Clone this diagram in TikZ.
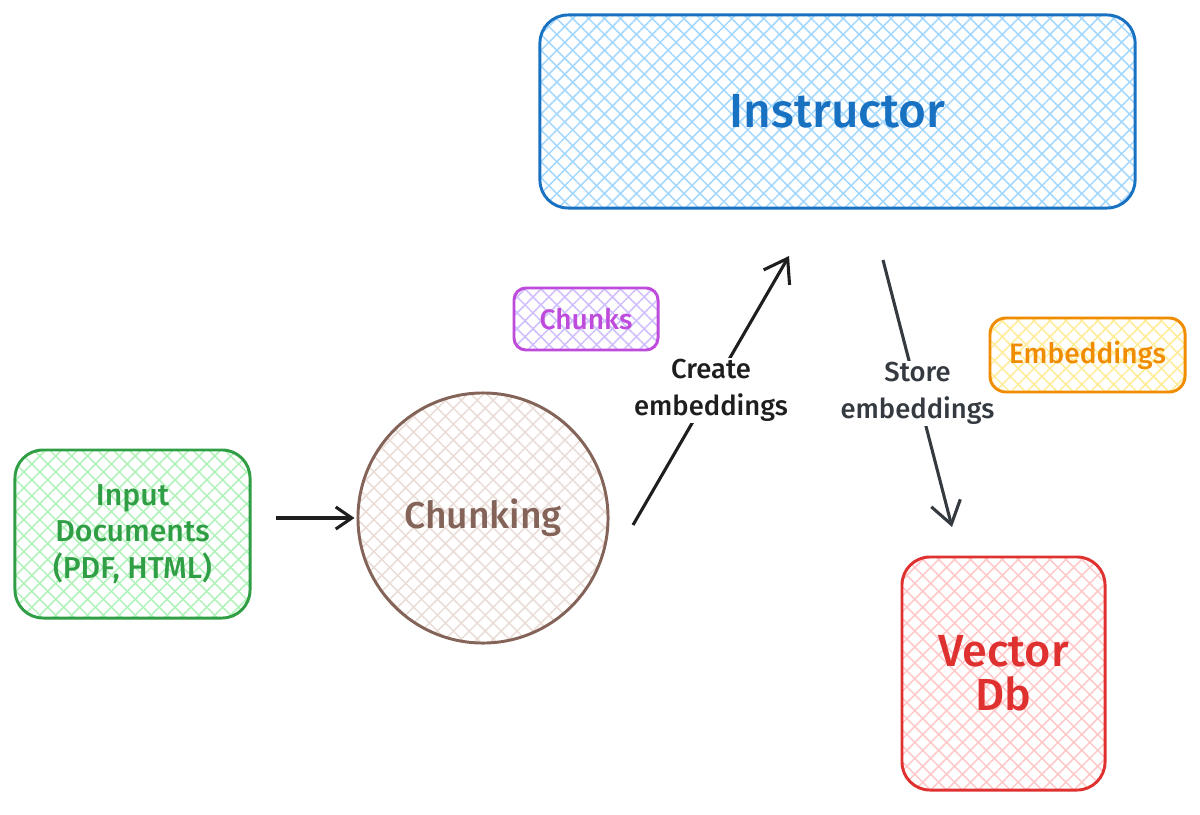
\documentclass[tikz,border=0pt]{standalone}
\usepackage{fontspec}
\setmainfont{Fira Sans Medium}
\usepackage{xcolor}
\usetikzlibrary{arrows.meta, patterns.meta}

\definecolor{grnline}{HTML}{2F9E44}
\definecolor{grnfill}{HTML}{B2F2BB}
\definecolor{brnline}{HTML}{846358}
\definecolor{brnfill}{HTML}{EADDD7}
\definecolor{purline}{HTML}{BE4BDB}
\definecolor{purfill}{HTML}{D0BFFF}
\definecolor{bluline}{HTML}{1971C2}
\definecolor{blufill}{HTML}{A5D8FF}
\definecolor{orgline}{HTML}{F08C00}
\definecolor{orgfill}{HTML}{FFEC99}
\definecolor{redline}{HTML}{E03131}
\definecolor{redfill}{HTML}{FFC9C9}
\definecolor{inkdark}{HTML}{1E1E1E}
\definecolor{inkgray}{HTML}{343A40}

\begin{document}
\begin{tikzpicture}[
  x=0.025cm, y=-0.025cm,
  sketch/.style={draw=#1line, line width=2.1pt, rounded corners=0.7cm, align=center, text=#1line,
    pattern={Hatch[angle=45, distance=8pt, line width=1.1pt]}, pattern color=#1fill},
  flow/.style={-{Straight Barb[length=5.5mm, width=7.5mm]}, line width=2.2pt, inkdark},
  tag/.style={fill=white, align=center, inner sep=1pt, font=\fontsize{19.5}{26}\selectfont},
]
  \useasboundingbox (0,0) rectangle (1200,814);

  % Ends of the arrows
  \coordinate (ceA) at (633,525);
  \coordinate (ceB) at (789,256);
  \coordinate (seA) at (883,260);
  \coordinate (seB) at (952,527);

  % Arrows
  \draw[flow] (ceA) -- node[tag] (celbl) {Create\\embeddings} (ceB);
  \draw[flow, inkgray] (seA) -- node[tag, text=inkgray] (selbl) {Store\\embeddings} (seB);

  % Boxes
  \node[sketch=grn, minimum width=5.875cm, minimum height=4.2cm, font=\fontsize{21.5}{26}\selectfont] (input) at (132.5,534) {Input\\Documents\\(PDF, HTML)};
  \node[sketch=brn, circle, minimum size=6.25cm, font=\fontsize{26.5}{30}\selectfont] (chunk) at (483,518) {Chunking};
  \node[sketch=pur, rounded corners=0.3cm, minimum width=3.6cm, minimum height=1.55cm, font=\fontsize{20}{24}\selectfont] (chunks) at (586,319) {Chunks};
  \node[sketch=blu, minimum width=14.875cm, minimum height=4.825cm, font=\fontsize{34}{38}\selectfont] (instr) at (837.5,111.5) {Instructor};
  \node[sketch=org, rounded corners=0.4cm, minimum width=4.875cm, minimum height=1.85cm, font=\fontsize{20}{24}\selectfont] (embed) at (1087.5,355) {Embeddings};
  \node[sketch=red, minimum width=5.075cm, minimum height=5.825cm, font=\fontsize{32}{31}\selectfont] (vdb) at (1003.5,673.5) {Vector\\Db};

  \draw[flow, -{Straight Barb[length=4mm, width=5.5mm]}, shorten <=0.625cm, shorten >=0.05cm] (input.east |- chunk.west) -- (chunk.west);
\end{tikzpicture}
\end{document}
